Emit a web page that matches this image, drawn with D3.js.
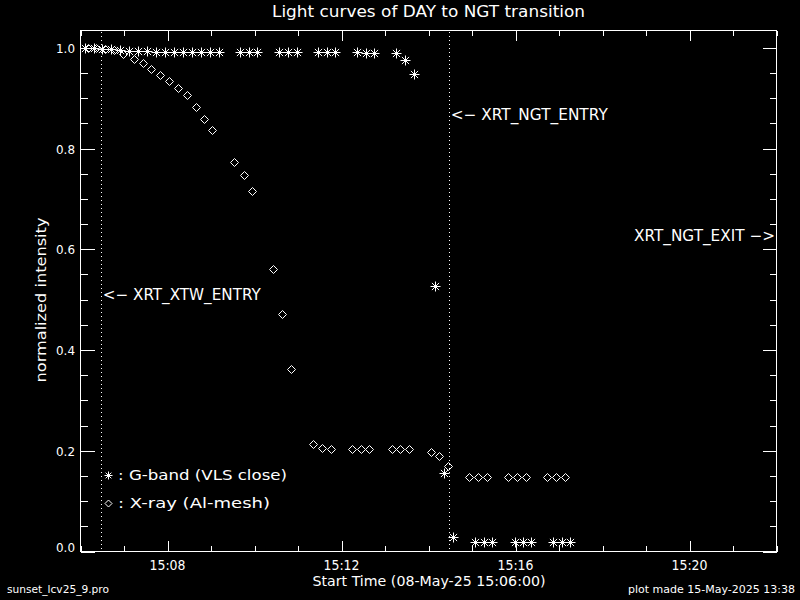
<!DOCTYPE html>
<html>
<head>
<meta charset="utf-8">
<script src="https://cdn.jsdelivr.net/npm/d3@7"></script>
<style>
  html, body { margin: 0; padding: 0; background: #000; }
  svg { display: block; }
  text { font-family: "DejaVu Sans", sans-serif; fill: #fff; }
</style>
</head>
<body>
<svg id="chart" width="800" height="600"></svg>
<script>
// ---- data (seconds after 15:06:00 on 08-May-25, normalized intensity) ----
const gbandSec = [6, 18, 30, 42, 54, 67, 79, 92, 104, 117, 129, 141, 154, 166, 179, 191,
  220, 232, 244, 274, 286, 298, 328, 340, 351, 382, 394, 405,
  435, 448, 460, 489, 501, 514, 544, 556, 567, 599, 610, 622, 652, 664, 675];
const gbandVal = [1.000, 0.999, 0.998, 0.997, 0.995, 0.994, 0.993, 0.993, 0.992, 0.992, 0.992, 0.992, 0.992, 0.991, 0.991, 0.991,
  0.992, 0.992, 0.991, 0.992, 0.991, 0.991, 0.991, 0.991, 0.991, 0.991, 0.990, 0.990,
  0.989, 0.976, 0.948, 0.528, 0.155, 0.028, 0.018, 0.018, 0.018, 0.018, 0.018, 0.018, 0.018, 0.018, 0.018];
const xraySec = [10, 22, 34, 46, 59, 74, 86, 97, 110, 122, 135, 147, 159, 171, 182,
  212, 225, 236, 266, 278, 291, 321, 333, 345, 375, 387, 398,
  429, 441, 453, 483, 495, 507, 536, 548, 560, 590, 602, 614, 644, 656, 668];
const xrayVal = [1.000, 0.999, 0.997, 0.995, 0.988, 0.978, 0.969, 0.958, 0.946, 0.935, 0.921, 0.907, 0.882, 0.859, 0.836,
  0.773, 0.748, 0.715, 0.561, 0.472, 0.363, 0.214, 0.206, 0.204, 0.204, 0.204, 0.204,
  0.204, 0.204, 0.204, 0.198, 0.189, 0.169, 0.147, 0.147, 0.147, 0.147, 0.147, 0.147, 0.147, 0.147, 0.147];
const eventNames = ["XRT_XTW_ENTRY", "XRT_NGT_ENTRY"];
const eventSec = [30, 510];
const yMajorTicks = [0, 0.2, 0.4, 0.6, 0.8, 1.0];
const yTickLabels = ["0.0", "0.2", "0.4", "0.6", "0.8", "1.0"];
const yMinorTicks = d3.range(0, 1.0001, 0.05);
const xTickLabels = ["15:08", "15:12", "15:16", "15:20"];
const t0 = Date.UTC(2025, 4, 8, 15, 6, 0);
const t1 = Date.UTC(2025, 4, 8, 15, 22, 0);

// ---- layout ----
const L = 80.5, R = 776.5, T = 30.5, B = 551.5;
const svg = d3.select("#chart");
svg.append("rect").attr("width", 800).attr("height", 600).attr("fill", "#000");

const x = d3.scaleUtc().domain([new Date(t0), new Date(t1)]).range([L, R]);
const y = d3.scaleLinear().domain([0, 1.0344]).range([B, T]);
const xs = s => x(new Date(t0 + s * 1000));

const g = svg.append("g").attr("shape-rendering", "crispEdges");

// frame
g.append("rect").attr("x", L).attr("y", T).attr("width", R - L).attr("height", B - T)
  .attr("fill", "none").attr("stroke", "#fff").attr("stroke-width", 1);

const majorX = d3.utcMinute.every(4);
const minorX = d3.utcMinute.every(1);
function styleAxis(sel) {
  sel.select(".domain").remove();
  sel.selectAll("line").attr("stroke", "#fff");
  sel.selectAll("text").remove();
}
// bottom
g.append("g").attr("transform", `translate(0,${B})`)
  .call(d3.axisBottom(x).ticks(minorX).tickSizeInner(-5.2).tickSizeOuter(0)).call(styleAxis);
g.append("g").attr("transform", `translate(0,${B})`)
  .call(d3.axisBottom(x).ticks(majorX).tickSizeInner(-10.4).tickSizeOuter(0)).call(styleAxis);
// top
g.append("g").attr("transform", `translate(0,${T})`)
  .call(d3.axisTop(x).ticks(minorX).tickSizeInner(-5.2).tickSizeOuter(0)).call(styleAxis);
g.append("g").attr("transform", `translate(0,${T})`)
  .call(d3.axisTop(x).ticks(majorX).tickSizeInner(-10.4).tickSizeOuter(0)).call(styleAxis);
// left / right
g.append("g").attr("transform", `translate(${L},0)`)
  .call(d3.axisLeft(y).tickValues(yMinorTicks).tickSizeInner(-7).tickSizeOuter(0)).call(styleAxis);
g.append("g").attr("transform", `translate(${L},0)`)
  .call(d3.axisLeft(y).tickValues(yMajorTicks).tickSizeInner(-14).tickSizeOuter(0)).call(styleAxis);
g.append("g").attr("transform", `translate(${R},0)`)
  .call(d3.axisRight(y).tickValues(yMinorTicks).tickSizeInner(-7).tickSizeOuter(0)).call(styleAxis);
g.append("g").attr("transform", `translate(${R},0)`)
  .call(d3.axisRight(y).tickValues(yMajorTicks).tickSizeInner(-14).tickSizeOuter(0)).call(styleAxis);

// text helper
function txt(px, py, s, size, anchor, len, rot) {
  const t = svg.append("text").attr("x", px).attr("y", py).text(s)
    .attr("font-size", size).attr("text-anchor", anchor || "start");
  if (len) t.attr("textLength", len).attr("lengthAdjust", "spacingAndGlyphs");
  if (rot) t.attr("transform", `rotate(${rot},${px},${py})`);
  return t;
}

// tick labels
majorX.range(new Date(t0), new Date(t1 + 1)).forEach((d, i) => {
  txt(x(d), 570, xTickLabels[i], 14, "middle", 36);
});
yMajorTicks.forEach((v, i) => {
  const py = v === 0 ? y(v) : y(v) + 5;
  txt(75, py, yTickLabels[i], 13, "end", 19);
});

// title and axis titles
txt(428.5, 17, "Light curves of DAY to NGT transition", 15, "middle", 313);
txt(46, 300, "normalized intensity", 13.5, "middle", 165, -90);
txt(429, 586, "Start Time (08-May-25 15:06:00)", 14, "middle", 233);
txt(7, 593, "sunset_lcv25_9.pro", 11, "start", 102);
txt(795, 593, "plot made 15-May-2025 13:38", 11, "end", 167);

// event lines
const ev = svg.append("g").attr("shape-rendering", "crispEdges");
eventSec.forEach(s => {
  const px = Math.round(xs(s)) - 0.5;
  ev.append("line").attr("x1", px).attr("x2", px).attr("y1", T + 1).attr("y2", B)
    .attr("stroke", "#fff").attr("stroke-dasharray", "1,3");
});
txt(xs(eventSec[0]) + 0.5, 300, "<\u2212 " + eventNames[0], 15, "start", 158);
txt(xs(eventSec[1]) + 0.5, 120, "<\u2212 " + eventNames[1], 15, "start", 157);
txt(775, 241, "XRT_NGT_EXIT \u2212>", 15, "end", 141);

// markers
function asterisk(r) {
  const d = r * 0.72;
  return `M${-r},0H${r}M0,${-r}V${r}M${-d},${-d}L${d},${d}M${-d},${d}L${d},${-d}`;
}
function diamond(r) {
  return `M0,${-r}L${r},0L0,${r}L${-r},0Z`;
}
const mk = svg.append("g").attr("fill", "none").attr("stroke", "#fff").attr("stroke-width", 1);
gbandSec.forEach((s, i) => {
  mk.append("path").attr("d", asterisk(5))
    .attr("transform", `translate(${Math.round(xs(s)) + 0.5},${Math.round(y(gbandVal[i])) + 0.5})`);
});
xraySec.forEach((s, i) => {
  mk.append("path").attr("d", diamond(4))
    .attr("transform", `translate(${Math.round(xs(s)) + 0.5},${Math.round(y(xrayVal[i])) + 0.5})`);
});

// legend
mk.append("path").attr("d", asterisk(4)).attr("transform", "translate(108.5,475.5)");
mk.append("path").attr("d", diamond(3.5)).attr("transform", "translate(108.5,503.5)");
txt(118, 480, ": G-band (VLS close)", 14, "start", 169);
txt(118, 508, ": X-ray (Al-mesh)", 14, "start", 152);
</script>
</body>
</html>
